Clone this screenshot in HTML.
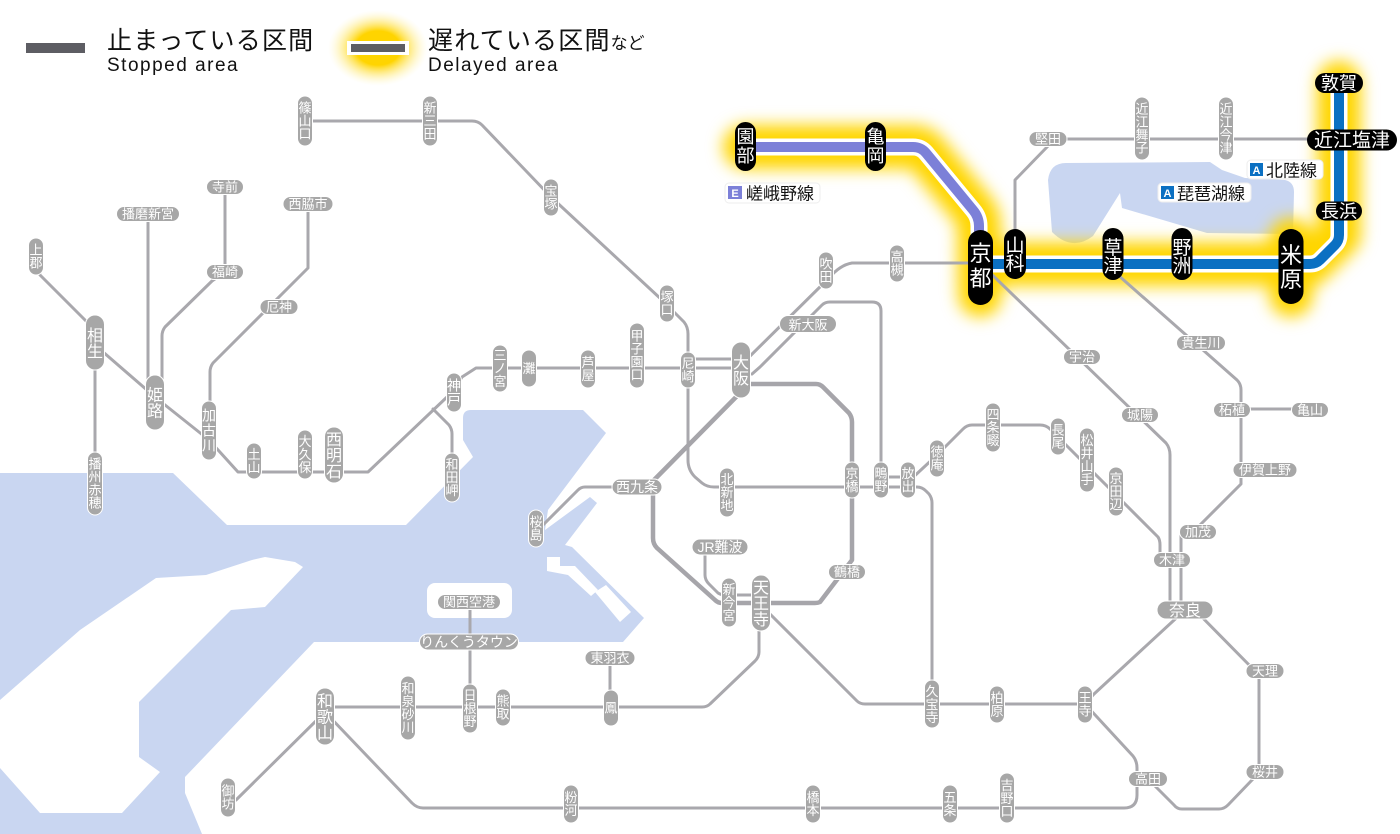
<!DOCTYPE html>
<html><head><meta charset="utf-8">
<style>
html,body{margin:0;padding:0;background:#fff;}
body{width:1400px;height:834px;overflow:hidden;}
svg{display:block;}
text{font-family:"Liberation Sans","Noto Sans CJK JP",sans-serif;}
.g{fill:#a7a7a7;stroke:#fff;stroke-width:1;}
.t{fill:#fff;font-size:13px;text-anchor:middle;}
.tm{fill:#fff;font-size:14px;text-anchor:middle;}
.tl{fill:#fff;font-size:16px;text-anchor:middle;}
.k{fill:#000;}
.w{fill:#fff;text-anchor:middle;}
</style></head><body>
<svg width="1400" height="834" viewBox="0 0 1400 834" xmlns="http://www.w3.org/2000/svg">
<defs>
<filter id="gl" filterUnits="userSpaceOnUse" x="0" y="0" width="1400" height="834"><feGaussianBlur stdDeviation="8"/></filter>
<radialGradient id="lg" cx="0.5" cy="0.5" r="0.5">
<stop offset="0" stop-color="#ffd400"/><stop offset="0.45" stop-color="#ffd400"/><stop offset="1" stop-color="#fff6c0" stop-opacity="0"/>
</radialGradient>
</defs>

<!-- water -->
<path fill="#c9d6f1" d="M0,473 L173,473 L227,525 L406,525 L473,457 L463,440 L463,418 Q463,410 471,410 L583,410 L606,433 L548,510 L545,530 L590,497 L597,503 L565,545 L572,547 L644,618 L623,642 L314,642 L185,777 L185,793 L202,834 L0,834 Z"/>
<path fill="#fff" d="M0,700 L80,630 L156,578 L206,575 L252,560 L265,557 L295,562 L303,567 L265,607 L231,610 L139,702 L139,757 L160,772 L122,813 L40,813 L8,777 L0,768 Z"/>
<path fill="#fff" d="M547,557 L560,557 L560,566 L575,566 L598,590 L591,596 L568,575 L547,571 Z"/>
<path fill="#fff" d="M595,592 L606,585 L631,612 L620,622 Z"/>
<rect x="427" y="583" width="85" height="35" rx="8" fill="#fff"/>
<!-- lake -->
<path fill="#c9d6f1" d="M1048,180 Q1050,163 1066,163 L1210,162 L1222,170 L1245,178 L1285,180 Q1294,182 1294,192 L1293,234 L1207,233 L1122,208 L1120,193 L1093,236 Q1072,252 1052,232 Z"/>

<!-- legend -->
<rect x="26" y="43" width="59" height="10" fill="#5d5d63"/>
<text x="107" y="49" font-size="25" letter-spacing="1.2" fill="#111">止まっている区間</text>
<text x="107" y="71" font-size="19" letter-spacing="1.5" fill="#111">Stopped area</text>
<ellipse cx="378" cy="48" rx="50" ry="38" fill="url(#lg)"/>
<rect x="347" y="41" width="62" height="14" fill="#fff"/>
<rect x="351" y="44" width="54" height="8" fill="#5d5d63"/>
<text x="428" y="49" font-size="25" letter-spacing="1.2" fill="#111">遅れている区間<tspan font-size="17" letter-spacing="0">など</tspan></text>
<text x="428" y="71" font-size="19" letter-spacing="1.5" fill="#111">Delayed area</text>

<!-- glow -->
<path filter="url(#gl)" fill="none" stroke="#ffd600" stroke-width="44" stroke-linecap="round" stroke-linejoin="round" d="M745,147 L913,147 Q921,147 926,153 L973,210 Q979,217 979,226 L980,295 M980,264 L1310,264 L1339,235 L1339,83 M1291,240 L1291,295"/>

<!-- gray lines -->
<g fill="none" stroke="#a9a8ad" stroke-width="3" stroke-linejoin="round" stroke-linecap="round">
<path d="M305,121 L472,121 Q478,121 482,125 L551,197 L662,300 L684,322 Q688,327 688,334 L688,460 Q688,470 695,477 L702,483 Q707,487 714,487 L908,487"/>
<path d="M36,256 L40,275 L95,330 L95,345 L155,397 L209,440 L238,472 L368,472 L447,397 L454,390 L462,377 L476,368 L741,368"/>
<path d="M95,342 L95,483"/>
<path d="M148,214 L148,395"/>
<path d="M225,187 L225,272 L212,281 L165,327 Q162,331 162,336 L162,395"/>
<path d="M308,204 L308,268 L213,363 Q210,367 210,372 L210,430"/>
<path d="M433,409 L449,425 Q452,429 452,434 L452,478"/>
<path d="M688,359 L741,359"/>
<path d="M741,365 L829,278 Q840,265 852,263 L980,263"/>
<path d="M752,374 L760,367 L822,305 Q825,302 830,302 L872,302 Q881,302 881,311 L881,468 Q881,477 889,477 L908,477"/>
<path d="M637,487 L585,487 Q581,487 578,490 L536,532"/>
<path d="M705,547 L705,575 Q705,580 709,584 L718,593 Q721,595 726,595 L761,595"/>
<path d="M761,605 L857,701 Q860,704 865,704 L1085,704"/>
<path d="M1085,704 L1094,694 L1185,610"/>
<path d="M759,610 L759,652 Q759,657 755,661 L710,704 Q707,707 702,707 L325,707"/>
<path d="M610,658 L610,707"/>
<path d="M470,602 L470,708"/>
<path d="M325,712 L236,800"/>
<path d="M325,712 L412,803 Q417,808 423,808 L1124,808 Q1137,808 1137,795 L1137,779"/>
<path d="M1085,704 L1133,756 Q1137,761 1137,768 L1137,779"/>
<path d="M1190,605 L1259,675 L1259,772 L1252,780 L1228,805 Q1224,809 1219,809 L1182,809 Q1177,809 1174,805 L1148,779"/>
<path d="M908,487 L917,487 Q922,487 926,491 L929,494 Q932,498 932,503 L932,704"/>
<path d="M908,482 L937,455 L963,429 Q967,425 972,425 L1040,425 Q1046,425 1050,429 L1158,537 Q1160,540 1160,545 L1160,560"/>
<path d="M980,263 L1166,443 Q1170,448 1170,455 L1170,610"/>
<path d="M1181,532 L1181,610"/>
<path d="M1190,535 L1241,484 L1241,390 Q1241,384 1237,380 L1118,275"/>
<path d="M1241,409 L1310,409"/>
<path d="M1015,264 L1015,180 L1048,146"/>
<path d="M1048,139 L1352,139"/>
</g>
<!-- loop -->
<path fill="none" stroke="#a6a5aa" stroke-width="4.5" stroke-linejoin="round" d="M741,384 L816,384 Q820,384 823,387 L849,413 Q852,417 852,422 L852,560 L820,602 Q818,603 815,603 L722,603 Q718,603 715,600 L657,548 Q653,544 653,538 L653,481 L741,392"/>

<!-- coloured lines -->
<path fill="none" stroke="#fff" stroke-width="17" stroke-linejoin="round" d="M746,147 L913,147 Q921,147 926,153 L973,210 Q979,217 979,226 L979,264"/>
<path fill="none" stroke="#7c80d8" stroke-width="10" stroke-linejoin="round" d="M746,147 L913,147 Q921,147 926,153 L973,210 Q979,217 979,226 L979,264"/>
<path fill="none" stroke="#fff" stroke-width="17" stroke-linejoin="round" d="M980,264 L1310,264 Q1316,264 1320,260 L1335,245 Q1339,241 1339,235 L1339,83"/>
<path fill="none" stroke="#0b70c2" stroke-width="10" stroke-linejoin="round" d="M980,264 L1310,264 Q1316,264 1320,260 L1335,245 Q1339,241 1339,235 L1339,83"/>

<!-- gray vertical stations -->
<rect class="g" x="297.5" y="96" width="15" height="50" rx="7.5"/><text class="t" x="305" y="112.5">篠<tspan x="305" dy="13">山</tspan><tspan x="305" dy="13">口</tspan></text>
<rect class="g" x="422.5" y="96" width="15" height="50" rx="7.5"/><text class="t" x="430" y="112.5">新<tspan x="430" dy="13">三</tspan><tspan x="430" dy="13">田</tspan></text>
<rect class="g" x="543.5" y="179" width="15" height="37" rx="7.5"/><text class="t" x="551" y="195.5">宝<tspan x="551" dy="13">塚</tspan></text>
<rect class="g" x="659.5" y="285" width="15" height="37" rx="7.5"/><text class="t" x="667" y="301.5">塚<tspan x="667" dy="13">口</tspan></text>
<rect class="g" x="28.5" y="238" width="15" height="37" rx="7.5"/><text class="t" x="36" y="254.5">上<tspan x="36" dy="13">郡</tspan></text>
<rect class="g" x="87.5" y="452" width="15" height="63" rx="7.5"/><text class="t" x="95" y="468.5">播<tspan x="95" dy="13">州</tspan><tspan x="95" dy="13">赤</tspan><tspan x="95" dy="13">穂</tspan></text>
<rect class="g" x="201.5" y="401" width="15" height="59" rx="7.5"/><text class="tm" x="209" y="420.5">加<tspan x="209" dy="15">古</tspan><tspan x="209" dy="15">川</tspan></text>
<rect class="g" x="246.5" y="443" width="15" height="36" rx="7.5"/><text class="t" x="254" y="459">土<tspan x="254" dy="13">山</tspan></text>
<rect class="g" x="297.5" y="430" width="15" height="49" rx="7.5"/><text class="t" x="305" y="446">大<tspan x="305" dy="13">久</tspan><tspan x="305" dy="13">保</tspan></text>
<rect class="g" x="444.5" y="453" width="15" height="49" rx="7.5"/><text class="t" x="452" y="469">和<tspan x="452" dy="13">田</tspan><tspan x="452" dy="13">岬</tspan></text>
<rect class="g" x="446.5" y="373" width="15" height="39" rx="7.5"/><text class="tm" x="454" y="390.5">神<tspan x="454" dy="14">戸</tspan></text>
<rect class="g" x="492.5" y="345" width="15" height="47" rx="7.5"/><text class="t" x="500" y="360">三<tspan x="500" dy="13">ノ</tspan><tspan x="500" dy="13">宮</tspan></text>
<rect class="g" x="521.5" y="350" width="15" height="37" rx="7.5"/><text class="t" x="529" y="373">灘</text>
<rect class="g" x="580.5" y="350" width="15" height="38" rx="7.5"/><text class="t" x="588" y="367">芦<tspan x="588" dy="13">屋</tspan></text>
<rect class="g" x="629.5" y="323" width="15" height="65" rx="7.5"/><text class="t" x="637" y="340.5">甲<tspan x="637" dy="13">子</tspan><tspan x="637" dy="13">園</tspan><tspan x="637" dy="13">口</tspan></text>
<rect class="g" x="680.5" y="352" width="15" height="36" rx="7.5"/><text class="t" x="688" y="368">尼<tspan x="688" dy="13">崎</tspan></text>
<rect class="g" x="719.5" y="468" width="15" height="49" rx="7.5"/><text class="t" x="727" y="484">北<tspan x="727" dy="13">新</tspan><tspan x="727" dy="13">地</tspan></text>
<rect class="g" x="528.5" y="510" width="15" height="37" rx="7.5"/><text class="t" x="536" y="526.5">桜<tspan x="536" dy="13">島</tspan></text>
<rect class="g" x="721.5" y="578" width="15" height="49" rx="7.5"/><text class="t" x="729" y="594">新<tspan x="729" dy="13">今</tspan><tspan x="729" dy="13">宮</tspan></text>
<rect class="g" x="844.5" y="462" width="15" height="36" rx="7.5"/><text class="t" x="852" y="478">京<tspan x="852" dy="13">橋</tspan></text>
<rect class="g" x="873.5" y="462" width="15" height="36" rx="7.5"/><text class="t" x="881" y="478">鴫<tspan x="881" dy="13">野</tspan></text>
<rect class="g" x="900.5" y="462" width="15" height="36" rx="7.5"/><text class="t" x="908" y="478">放<tspan x="908" dy="13">出</tspan></text>
<rect class="g" x="929.5" y="440" width="15" height="37" rx="7.5"/><text class="t" x="937" y="456.5">徳<tspan x="937" dy="13">庵</tspan></text>
<rect class="g" x="818.5" y="252" width="15" height="37" rx="7.5"/><text class="t" x="826" y="268.5">吹<tspan x="826" dy="13">田</tspan></text>
<rect class="g" x="889.5" y="245" width="15" height="37" rx="7.5"/><text class="t" x="897" y="261.5">高<tspan x="897" dy="13">槻</tspan></text>
<rect class="g" x="985.5" y="403" width="15" height="49" rx="7.5"/><text class="t" x="993" y="419">四<tspan x="993" dy="13">条</tspan><tspan x="993" dy="13">畷</tspan></text>
<rect class="g" x="1050.5" y="418" width="15" height="37" rx="7.5"/><text class="t" x="1058" y="434.5">長<tspan x="1058" dy="13">尾</tspan></text>
<rect class="g" x="1079.5" y="428" width="15" height="64" rx="7.5"/><text class="t" x="1087" y="445">松<tspan x="1087" dy="13">井</tspan><tspan x="1087" dy="13">山</tspan><tspan x="1087" dy="13">手</tspan></text>
<rect class="g" x="1108.5" y="467" width="15" height="49" rx="7.5"/><text class="t" x="1116" y="483">京<tspan x="1116" dy="13">田</tspan><tspan x="1116" dy="13">辺</tspan></text>
<rect class="g" x="1134.5" y="97" width="15" height="63" rx="7.5"/><text class="t" x="1142" y="113.5">近<tspan x="1142" dy="13">江</tspan><tspan x="1142" dy="13">舞</tspan><tspan x="1142" dy="13">子</tspan></text>
<rect class="g" x="1218.5" y="97" width="15" height="63" rx="7.5"/><text class="t" x="1226" y="113.5">近<tspan x="1226" dy="13">江</tspan><tspan x="1226" dy="13">今</tspan><tspan x="1226" dy="13">津</tspan></text>
<rect class="g" x="400.5" y="676" width="15" height="64" rx="7.5"/><text class="t" x="408" y="693">和<tspan x="408" dy="13">泉</tspan><tspan x="408" dy="13">砂</tspan><tspan x="408" dy="13">川</tspan></text>
<rect class="g" x="462.5" y="684" width="15" height="49" rx="7.5"/><text class="t" x="470" y="700">日<tspan x="470" dy="13">根</tspan><tspan x="470" dy="13">野</tspan></text>
<rect class="g" x="495.5" y="689" width="15" height="37" rx="7.5"/><text class="t" x="503" y="705.5">熊<tspan x="503" dy="13">取</tspan></text>
<rect class="g" x="603.5" y="690" width="15" height="36" rx="7.5"/><text class="t" x="611" y="712.5">鳳</text>
<rect class="g" x="220.5" y="778" width="15" height="39" rx="7.5"/><text class="t" x="228" y="795.5">御<tspan x="228" dy="13">坊</tspan></text>
<rect class="g" x="563.5" y="785" width="15" height="38" rx="7.5"/><text class="t" x="571" y="802">粉<tspan x="571" dy="13">河</tspan></text>
<rect class="g" x="805.5" y="785" width="15" height="38" rx="7.5"/><text class="t" x="813" y="802">橋<tspan x="813" dy="13">本</tspan></text>
<rect class="g" x="942.5" y="785" width="15" height="38" rx="7.5"/><text class="t" x="950" y="802">五<tspan x="950" dy="13">条</tspan></text>
<rect class="g" x="999.5" y="773" width="15" height="50" rx="7.5"/><text class="t" x="1007" y="790">吉<tspan x="1007" dy="13">野</tspan><tspan x="1007" dy="13">口</tspan></text>
<rect class="g" x="924.5" y="680" width="15" height="48" rx="7.5"/><text class="t" x="932" y="696">久<tspan x="932" dy="13">宝</tspan><tspan x="932" dy="13">寺</tspan></text>
<rect class="g" x="989.5" y="686" width="15" height="37" rx="7.5"/><text class="t" x="997" y="702.5">柏<tspan x="997" dy="13">原</tspan></text>
<rect class="g" x="1077.5" y="686" width="15" height="37" rx="7.5"/><text class="t" x="1085" y="702.5">王<tspan x="1085" dy="13">寺</tspan></text>

<!-- large gray -->
<rect class="g" x="85.5" y="315" width="19" height="55" rx="9.5"/><text class="tl" x="95" y="341">相<tspan x="95" dy="16">生</tspan></text>
<rect class="g" x="145.5" y="375" width="19" height="55" rx="9.5"/><text class="tl" x="155" y="400.5">姫<tspan x="155" dy="16">路</tspan></text>
<rect class="g" x="324.5" y="427" width="19" height="56" rx="9.5"/><text class="tl" x="334" y="445">西<tspan x="334" dy="16">明</tspan><tspan x="334" dy="16">石</tspan></text>
<rect class="g" x="731.5" y="342" width="19" height="56" rx="9.5"/><text class="tl" x="741" y="368" font-size="17">大<tspan x="741" dy="16">阪</tspan></text>
<rect class="g" x="751.5" y="575" width="19" height="56" rx="9.5"/><text class="tl" x="761" y="593">天<tspan x="761" dy="16">王</tspan><tspan x="761" dy="16">寺</tspan></text>
<rect class="g" x="315.5" y="688" width="19" height="57" rx="9.5"/><text class="tl" x="325" y="706.5">和<tspan x="325" dy="16">歌</tspan><tspan x="325" dy="16">山</tspan></text>

<!-- gray horizontal -->
<rect class="g" x="206.5" y="179.5" width="37" height="15" rx="7.5"/><text class="t" x="225" y="191.5">寺前</text>
<rect class="g" x="116.5" y="206.5" width="63" height="15" rx="7.5"/><text class="t" x="148" y="218.5">播磨新宮</text>
<rect class="g" x="283" y="196.5" width="50" height="15" rx="7.5"/><text class="t" x="308" y="208.5">西脇市</text>
<rect class="g" x="206.5" y="264.5" width="37" height="15" rx="7.5"/><text class="t" x="225" y="276.5">福崎</text>
<rect class="g" x="260" y="299.5" width="38" height="15" rx="7.5"/><text class="t" x="279" y="311.5">厄神</text>
<rect class="g" x="1063.5" y="349.5" width="37" height="15" rx="7.5"/><text class="t" x="1082" y="361.5">宇治</text>
<rect class="g" x="1121.5" y="407.5" width="37" height="15" rx="7.5"/><text class="t" x="1140" y="419.5">城陽</text>
<rect class="g" x="1176.5" y="335.5" width="49" height="15" rx="7.5"/><text class="t" x="1201" y="347.5">貴生川</text>
<rect class="g" x="1213.5" y="402.5" width="37" height="15" rx="7.5"/><text class="t" x="1232" y="414.5">柘植</text>
<rect class="g" x="1291.5" y="402.5" width="37" height="15" rx="7.5"/><text class="t" x="1310" y="414.5">亀山</text>
<rect class="g" x="1233" y="462.5" width="64" height="15" rx="7.5"/><text class="t" x="1265" y="474.5">伊賀上野</text>
<rect class="g" x="1179.5" y="524.5" width="37" height="15" rx="7.5"/><text class="t" x="1198" y="536.5">加茂</text>
<rect class="g" x="1153.5" y="552.5" width="37" height="15" rx="7.5"/><text class="t" x="1172" y="564.5">木津</text>
<rect class="g" x="1246" y="663.5" width="38" height="15" rx="7.5"/><text class="t" x="1265" y="675.5">天理</text>
<rect class="g" x="1246" y="764.5" width="38" height="15" rx="7.5"/><text class="t" x="1265" y="776.5">桜井</text>
<rect class="g" x="1128.5" y="771.5" width="39" height="15" rx="7.5"/><text class="t" x="1148" y="783.5">高田</text>
<rect class="g" x="1029" y="131.5" width="38" height="15" rx="7.5"/><text class="t" x="1048" y="143.5">堅田</text>
<rect class="g" x="437.5" y="594.5" width="63" height="15" rx="7.5"/><text class="t" x="469" y="606.5">関西空港</text>
<rect class="g" x="585" y="650.5" width="50" height="15" rx="7.5"/><text class="t" x="610" y="662.5">東羽衣</text>
<rect class="g" x="828.5" y="564.5" width="37" height="15" rx="7.5"/><text class="t" x="847" y="576.5">鶴橋</text>
<rect class="g" x="779.5" y="315.5" width="57" height="17" rx="8.5"/><text class="t" x="808" y="329.5" font-size="15">新大阪</text>
<rect class="g" x="612" y="479" width="50" height="16" rx="8"/><text class="tm" x="637" y="492">西九条</text>
<rect class="g" x="692" y="539" width="56" height="16" rx="8"/><text class="tm" x="720" y="552">JR難波</text>
<rect class="g" x="419.5" y="634" width="99" height="16" rx="8"/><text class="tm" x="469" y="647">りんくうタウン</text>
<rect class="g" x="1157" y="601" width="56" height="18" rx="9"/><text class="tl" x="1185" y="616" font-size="17">奈良</text>

<!-- black stations -->
<rect class="k" x="735" y="122" width="21" height="49" rx="10.5"/><text class="w" x="745.5" y="143" font-size="18">園<tspan x="745.5" dy="19">部</tspan></text>
<rect class="k" x="865" y="122" width="21" height="49" rx="10.5"/><text class="w" x="875.5" y="143" font-size="18">亀<tspan x="875.5" dy="19">岡</tspan></text>
<rect class="k" x="968" y="230" width="25" height="75" rx="12.5"/><text class="w" x="980.5" y="261" font-size="22">京<tspan x="980.5" dy="25">都</tspan></text>
<rect class="k" x="1004" y="229" width="22" height="50" rx="11"/><text class="w" x="1015" y="252" font-size="19">山<tspan x="1015" dy="18">科</tspan></text>
<rect class="k" x="1102.5" y="228" width="21" height="52" rx="10.5"/><text class="w" x="1113" y="254" font-size="19">草<tspan x="1113" dy="18">津</tspan></text>
<rect class="k" x="1171.5" y="228" width="21" height="52" rx="10.5"/><text class="w" x="1182" y="254" font-size="19">野<tspan x="1182" dy="18">洲</tspan></text>
<rect class="k" x="1278.5" y="229" width="25" height="75" rx="12.5"/><text class="w" x="1291" y="263" font-size="22">米<tspan x="1291" dy="24">原</tspan></text>
<rect class="k" x="1315" y="73" width="48" height="20" rx="10"/><text class="w" x="1339" y="89.5" font-size="18">敦賀</text>
<rect class="k" x="1307" y="129.5" width="90" height="21" rx="10.5"/><text class="w" x="1352" y="146.5" font-size="19">近江塩津</text>
<rect class="k" x="1316" y="201.5" width="46" height="19" rx="9.5"/><text class="w" x="1339" y="217.5" font-size="18">長浜</text>

<!-- line labels -->
<rect x="725" y="183" width="95" height="20" rx="4" fill="#fff" stroke="#eeeeee" stroke-width="1"/>
<rect x="728" y="186" width="14" height="13" fill="#7c80d8"/>
<text x="735" y="197" font-size="11" font-weight="bold" fill="#fff" text-anchor="middle">E</text>
<text x="746" y="199.5" font-size="17" fill="#111">嵯峨野線</text>

<rect x="1247" y="160" width="76" height="19" rx="4" fill="#fff" stroke="#eeeeee" stroke-width="1"/>
<rect x="1250" y="163" width="13" height="13" fill="#0b70c2"/>
<text x="1256.5" y="174" font-size="11" font-weight="bold" fill="#fff" text-anchor="middle">A</text>
<text x="1266" y="176.5" font-size="17" fill="#111">北陸線</text>

<rect x="1158" y="183" width="93" height="19" rx="4" fill="#fff" stroke="#eeeeee" stroke-width="1"/>
<rect x="1161" y="186" width="13" height="13" fill="#0b70c2"/>
<text x="1167.5" y="197" font-size="11" font-weight="bold" fill="#fff" text-anchor="middle">A</text>
<text x="1177" y="199.5" font-size="17" fill="#111">琵琶湖線</text>
</svg>
</body></html>
